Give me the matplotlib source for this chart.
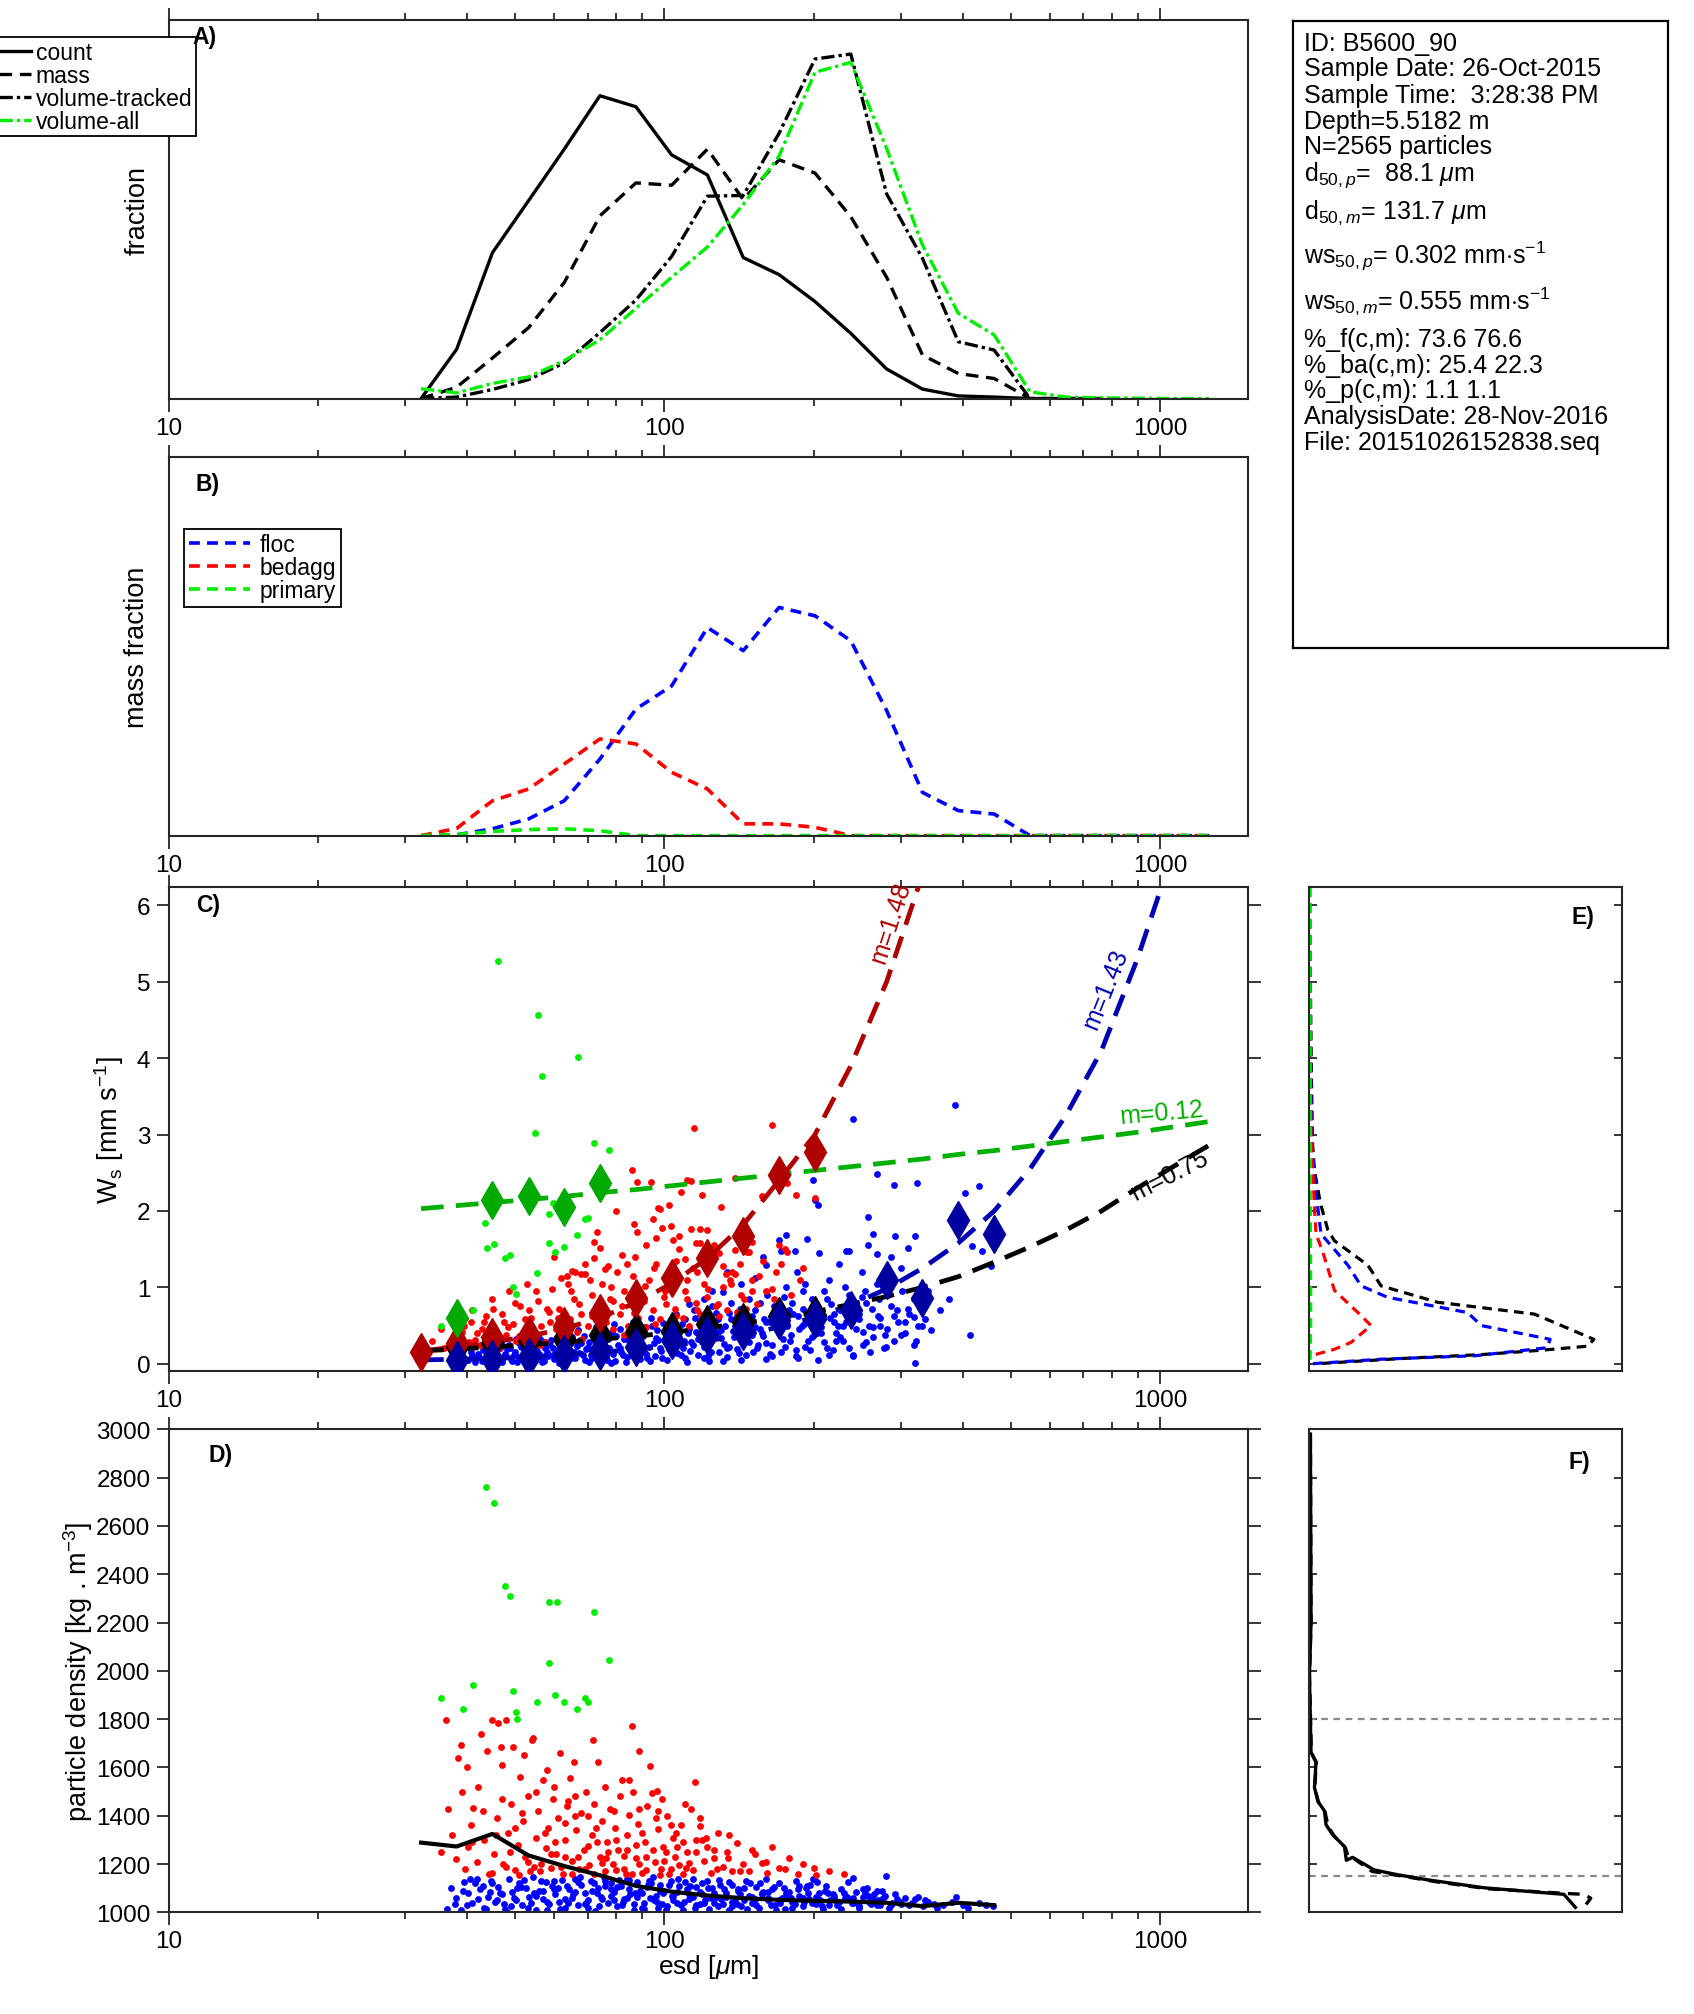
import matplotlib
matplotlib.use('Agg')
import matplotlib.pyplot as plt
from matplotlib.ticker import LogLocator, NullFormatter, FixedLocator

plt.rcParams['font.family'] = ['Liberation Sans', 'DejaVu Sans']
plt.rcParams['mathtext.fontset'] = 'custom'
plt.rcParams['mathtext.rm'] = 'Liberation Sans'
plt.rcParams['mathtext.it'] = 'Liberation Sans:italic'
plt.rcParams['mathtext.bf'] = 'Liberation Sans:bold'

# ---- size bins (esd, um) ----
bins = [32.3, 38.1, 45.0, 53.2, 62.8, 74.1, 87.6, 103.4, 122.1, 144.2, 170.3, 201.2,
        237.6, 280.6, 331.4, 391.4, 462.3, 546.0, 645.0, 761.0, 899.0, 1062.0, 1254.0]
xtick_vals = [10, 100, 1000]
xtick_labels = ['10', '100', '1000']

# ---- A) size distributions ----
frac_count = [0, .130, .385, .522, .658, .799, .770, .643, .590, .372, .327, .256, .172,
              .078, .025, .007, .004, 0, 0, 0]
frac_mass = [0, .030, .107, .187, .306, .482, .569, .563, .658, .525, .630, .595, .480,
             .320, .115, .066, .053, 0, 0, 0]
frac_vol_tracked = [0, .004, .024, .050, .094, .174, .260, .375, .534, .536, .700, .896,
                    .909, .540, .370, .150, .128, 0, 0, 0]
frac_vol_all = [.026, .015, .040, .057, .100, .155, .238, .320, .400, .512, .640, .861,
                .887, .660, .405, .225, .168, .018, .004, .002, .001, 0, 0]

# ---- B) mass fraction by class ----
mf_floc = [0, .002, .018, .044, .092, .202, .334, .395, .549, .488, .602, .580, .514,
           .330, .114, .066, .057, 0, 0, 0, 0, 0, 0]
mf_bedagg = [0, .019, .092, .123, .189, .255, .242, .167, .123, .031, .031, .022, 0,
             0, 0, 0, 0, 0, 0, 0, 0, 0, 0]
mf_primary = [0, .003, .011, .016, .018, .013, 0, 0, 0, 0, 0, 0, 0,
              0, 0, 0, 0, 0, 0, 0, 0, 0, 0]

# ---- C) settling velocity (mm/s) ----
ws_floc_pts = [
    (37.5, .03), (38.4, .08), (39.0, .12), (40.1, .05), (40.8, .15), (41.5, .02), (42.3, .09),
    (43.0, .18), (43.6, .06), (44.2, .11), (45.1, .03), (45.8, .14), (46.5, .20), (47.2, .07),
    (47.9, .10), (48.6, .25), (49.3, .04), (50.0, .16), (50.7, .09), (51.4, .22), (52.1, .12),
    (52.9, .05), (53.6, .18), (54.4, .28), (55.1, .08), (55.9, .13), (56.7, .02), (57.5, .21),
    (58.3, .10), (59.1, .31), (59.9, .06), (60.8, .17), (61.6, .24), (62.5, .11), (63.4, .03),
    (64.3, .19), (65.2, .35), (66.1, .08), (67.1, .14), (68.0, .27), (69.0, .05), (70.0, .22),
    (71.0, .12), (72.0, .38), (73.0, .17), (74.1, .07), (75.1, .30), (76.2, .10), (77.3, .20),
    (78.4, .42), (79.5, .04), (80.7, .25), (81.8, .15), (83.0, .33), (84.2, .09), (85.4, .46),
    (86.6, .18), (87.8, .28), (89.1, .06), (90.4, .37), (91.7, .13), (93.0, .22), (94.3, .50),
    (95.7, .10), (97.0, .31), (98.4, .17), (99.8, .42), (101, .05), (103, .26), (104, .55),
    (106, .14), (107, .35), (109, .20), (110, .08), (112, .46), (113, .29), (115, .60),
    (117, .12), (118, .38), (120, .22), (122, .52), (123, .03), (125, .31), (127, .66),
    (129, .16), (130, .44), (132, .26), (134, .09), (136, .58), (138, .35), (140, .19),
    (142, .72), (144, .42), (146, .11), (148, .28), (150, .62), (152, .48), (154, .20),
    (156, .80), (158, .36), (160, .06), (163, .55), (165, .25), (167, .70), (170, .40),
    (172, .15), (174, .88), (177, .50), (179, .30), (182, .65), (184, .10), (187, .45),
    (190, .95), (192, .22), (195, .58), (198, .35), (201, .75), (204, .05), (207, .48),
    (210, .28), (213, .85), (216, .60), (219, .18), (222, .40), (226, .70), (229, .30),
    (232, .55), (236, .90), (240, .12), (243, .45), (247, .65), (251, .25), (255, .80),
    (259, .50), (264, .35), (268, 1.05), (272, .60), (277, .20), (281, .45), (286, .75),
    (291, .30), (296, .55), (301, .95), (306, .40), (312, .65), (318, .25), (324, .50), (330, .80),
    (38, .01), (39.5, .06), (41, .10), (42.8, .04), (44.6, .08), (46, .01), (47.6, .13),
    (49, .06), (50.4, .02), (51.8, .10), (53.2, .15), (54.8, .03), (56.3, .09), (57.9, .16),
    (59.5, .12), (61.2, .01), (62.9, .14), (64.7, .07), (66.5, .23), (68.4, .11), (70.3, .02),
    (72.4, .15), (74.5, .26), (76.7, .05), (78.9, .13), (81.2, .21), (83.6, .02), (86.0, .11),
    (88.5, .24), (91.0, .16), (93.6, .03), (96.3, .34), (99.1, .08), (102, .19), (105, .40),
    (108, .11), (111, .02), (114, .25), (117, .33), (120, .07), (124, .16), (128, .41),
    (131, .04), (135, .22), (139, .50), (143, .05), (147, .33), (151, .15), (156, .45),
    (160, .27), (165, .10), (170, .60), (175, .22), (180, .38), (186, .08), (191, .52),
    (197, .18), (203, .40), (209, .62), (215, .12), (222, .30), (229, .50), (236, .20),
    (244, .70), (252, .42), (260, .15), (269, .62), (278, .38),
    (45.5, .17), (47.0, .02), (48.2, .19), (49.8, .11), (51.0, .27), (52.5, .01), (53.9, .23),
    (55.4, .17), (56.0, .33), (57.1, .04), (58.8, .25), (60.3, .13), (61.9, .29), (63.7, .09),
    (65.6, .16), (67.5, .31), (69.4, .19), (71.5, .08), (73.6, .34), (75.8, .21), (78.0, .01),
    (80.0, .36), (82.4, .12), (84.8, .30), (87.3, .19), (89.8, .40), (92.4, .07), (95.1, .27),
    (97.9, .20), (100.5, .36), (103.5, .13), (106.5, .46), (109.5, .30), (112.5, .17),
    (116, .42), (119, .28), (122.5, .10), (126, .48), (130, .34), (133.5, .21), (137.5, .43),
    (141.5, .14), (145.5, .52), (150, .38), (154.5, .24), (159, .58), (163.5, .13),
    (168.5, .46), (173.5, .33), (178.5, .70), (184, .18), (189.5, .50), (195, .30), (201, .62),
    (207, .40), (213, .20), (219.5, .55), (226, .35), (233, .72), (240, .10), (247, .58),
    (255, .28), (263, .48), (271, .85), (280, .22), (290, .62), (300, .38), (310, .72),
    (322, .30), (335, .58),
    (40.5, .20), (42, .13), (43.4, .24), (44.9, .16), (46.8, .28), (48.9, .21), (50.2, .33),
    (52.2, .26), (54.1, .10), (55.7, .38), (57.3, .29), (59.7, .20), (61.4, .40), (63.0, .33),
    (64.9, .27), (66.8, .44), (68.7, .36), (70.6, .28), (72.7, .48), (74.8, .40), (77.0, .32),
    (79.2, .52), (81.5, .45), (83.9, .37), (86.3, .55), (88.8, .33), (91.4, .48), (94.0, .60),
    (96.7, .44), (99.5, .53), (102.4, .30), (105.3, .65), (108.4, .52), (111.5, .40),
    (114.7, .70), (118, .55), (121.4, .45), (124.9, .75), (128.5, .58), (132.2, .50),
    (136, .80), (140, .62), (144, .33), (148, .85), (152, .70), (157, .40), (161, .90),
    (166, .75), (171, .52), (176, 1.0), (181, .80), (186, .62), (192, 1.05), (198, .85),
    (204, .68), (210, .95), (217, .78), (224, .50), (231, 1.0), (238, .82), (246, .62),
    (254, .95), (262, .72), (272, .50), (283, .90), (294, .70), (306, .55), (318, .85),
    (60.6, .35), (85, .42), (110, .58), (135, .66), (160, .55), (190, .72), (220, .65),
    (250, .88),
    (386, 3.39), (240, 3.21), (199, 2.41), (201, 2.15), (204, 2.08), (268, 2.48), (291, 2.34),
    (323, 2.37), (404, 2.24), (430, 2.33), (257, 1.92), (264, 1.70), (176, 1.69), (170, 1.62),
    (194, 1.63), (292, 1.67), (320, 1.67), (172, 1.47), (183, 1.47), (205, 1.45), (232, 1.48),
    (236, 1.48), (257, 1.55), (268, 1.44), (287, 1.40), (310, 1.51), (417, 1.54), (437, 1.48),
    (456, 1.28), (413, 0.38), (320, 0.01), (345, 0.44), (330, 0.49), (318, 0.61), (158, 1.40),
    (160, 1.29), (152, 1.12), (134, 1.20), (131, 0.94), (143, 1.05), (120, 0.85), (112, 0.78),
    (125, 0.95), (185, 1.20), (215, 1.10), (225, 1.30), (250, 1.20), (275, 1.10), (300, 1.25),
    (340, 0.95), (360, 0.70), (375, 0.85),
]
ws_bedagg_pts = [
    (34, .30), (35.5, .45), (36.5, .22), (37.2, .60), (38, .35), (38.8, .18), (39.5, .50),
    (40.3, .28), (41, .70), (41.8, .40), (42.5, .25), (43.3, .55), (44, .33), (44.8, .85),
    (45.6, .45), (46.3, .20), (47.1, .65), (47.9, .38), (48.7, .95), (49.5, .52), (50.3, .30),
    (51.2, .75), (52, .42), (52.9, 1.05), (53.8, .60), (54.7, .35), (55.6, .82), (56.5, .50),
    (57.5, .28), (58.4, .68), (59.4, .98), (60.4, .45), (61.4, .72), (62.4, .38), (63.5, 1.15),
    (64.5, .58), (65.6, .85), (66.7, .42), (67.8, .65), (69, 1.30), (70.1, .50), (71.3, .90),
    (72.5, .35), (73.7, .75), (75, 1.05), (76.2, .55), (77.5, .85), (78.8, .45), (80.1, 1.20),
    (81.5, .65), (82.9, .95), (84.3, .50), (85.7, .78), (87.1, 1.40), (88.6, .60), (90.1, .90),
    (91.6, .48), (93.2, 1.10), (94.7, .70), (96.3, 1.30), (98, .58), (99.6, .88), (101, .45),
    (103, 1.15), (105, .72), (107, 1.50), (109, .60), (110, .95), (112, .50), (114, 1.25),
    (116, .80), (118, .65), (120, 1.05), (122, .55), (124, 1.35), (127, .75), (129, .62),
    (131, 1.00), (134, .70), (137, 1.20), (140, .68), (143, .90), (146, .72), (150, 1.10),
    (154, .78), (160, .95), (166, .85), (172, 1.30), (180, .90), (188, 1.10),
    (36, .20), (39, .42), (41.5, .31), (43.7, .62), (46, .27), (48.3, .48), (50.8, .36),
    (53.4, .70), (56, .25), (58.8, .55), (61.8, .40), (64.9, .95), (68.1, .32), (71.5, .62),
    (75.1, .45), (78.9, .82), (82.8, .38), (86.9, .66), (91.2, 1.02), (95.8, .52), (100.6, .78),
    (105.6, .62), (110.9, 1.10), (116.4, .70), (122, .88), (128, .78), (136, 1.05), (145, .85),
    (155, 1.15), (165, .98), (175, 1.50), (190, 1.25),
    (37.8, .40), (40.8, .55), (42.9, .46), (45.1, .72), (47.5, .55), (49.9, .80), (52.4, .58),
    (55.1, .95), (57.9, .72), (60.9, .60), (64.0, 1.05), (67.3, .78), (70.7, 1.10), (74.3, .68),
    (78.2, 1.00), (82.2, .75), (86.4, 1.15), (90.8, .82), (95.4, 1.25), (100.3, .95),
    (105.4, 1.35), (110.8, .85), (116.5, 1.20), (122.5, .98), (128.7, 1.45), (135.3, 1.10),
    (142, 1.30), (150, .95), (158, 1.35), (168, 1.20), (60, 1.40), (72, 1.60), (84, 1.30),
    (92, 1.55), (104, 1.62), (126, 1.55), (95, 1.90), (80, 2.00), (130, 2.05), (108, 2.25),
    (114.6, 3.09), (165, 3.13), (86, 2.54), (88, 2.38), (94, 2.38), (97, 2.04), (102, 2.08),
    (111, 2.40), (113, 2.39), (119, 2.21), (118, 1.77), (122, 1.75), (118, 1.58), (107, 1.67),
    (99, 1.78), (96, 1.65), (87, 1.83), (88, 1.73), (82, 1.42), (73, 1.72), (74, 1.52),
    (72, 1.39), (77, 1.28), (65, 1.21), (68, 1.18), (62, 1.12), (131, 1.28), (139, 1.18),
    (139, 1.49), (147, 1.46), (157, 2.20), (139, 2.43), (184, 2.21), (177, 2.36), (201, 2.17),
    (170, 1.55), (177, 1.46), (116, 1.58), (110, 1.37), (124, 1.37), (133, 1.18), (148, 1.46),
    (150, 1.60), (98, 2.03), (103, 1.80), (113, 1.76), (76, 1.24), (69, 1.17), (66, 1.20),
]
ws_primary_pts = [
    (46.1, 5.27), (55.6, 4.57), (56.7, 3.76), (66.8, 4.02), (54.8, 3.02), (72.0, 2.89),
    (77.4, 2.80), (43.5, 1.84), (45.4, 1.57), (43.8, 1.51), (47.7, 1.39), (48.9, 1.42),
    (58.5, 1.58), (62.7, 1.53), (60.1, 1.46), (58.5, 1.96), (59.5, 2.10), (69.3, 1.89),
    (70.0, 1.91), (66.5, 1.69), (55.4, 1.19), (49.5, 1.00), (50.3, 0.91), (41.1, 0.70),
    (35.5, 0.50),
]
# binned medians (diamonds)
ws_med_bedagg = [0.15, 0.27, 0.35, 0.38, 0.49, 0.66, 0.86, 1.12, 1.39, 1.67, 2.47, 2.77]
ws_med_floc = [0.05, 0.06, 0.09, 0.13, 0.17, 0.22, 0.31, 0.38, 0.43, 0.57, 0.59, 0.71,
               1.09, 0.86, 1.88, 1.70]
ws_med_all = [0.22, 0.27, 0.30, 0.33, 0.38, 0.42, 0.43, 0.52, 0.55, 0.63, 0.64]
ws_med_primary = [0.60, 2.15, 2.20, 2.05, 2.37]
# fitted curves read at the bin centres
ws_fit_bedagg = [0.17, 0.22, 0.28, 0.36, 0.46, 0.60, 0.80, 1.05, 1.38, 1.82, 2.40, 3.00,
                 3.90, 5.00, 6.40]
ws_fit_floc = [0.05, 0.06, 0.07, 0.09, 0.12, 0.15, 0.19, 0.24, 0.30, 0.38, 0.48, 0.61,
               0.77, 0.98, 1.25, 1.58, 2.00, 2.55, 3.25, 4.10, 5.30, 6.70]
ws_fit_all = [0.17, 0.19, 0.22, 0.25, 0.28, 0.32, 0.36, 0.41, 0.47, 0.53, 0.60, 0.68,
              0.78, 0.88, 1.00, 1.14, 1.33, 1.53, 1.75, 2.00, 2.30, 2.58, 2.86]
ws_fit_primary = [2.03, 2.07, 2.11, 2.15, 2.19, 2.24, 2.28, 2.33, 2.38, 2.43, 2.48, 2.53,
                  2.58, 2.63, 2.68, 2.74, 2.79, 2.85, 2.91, 2.97, 3.03, 3.10, 3.17]

# ---- D) particle density (kg/m3) ----
rho_floc_pts = [
    (36.4, 1013), (37.2, 1100), (38.0, 1060), (38.8, 1010), (39.5, 1125), (40.2, 1080),
    (41.0, 1040), (41.8, 1140), (42.5, 1095), (43.2, 1020), (44.0, 1065), (44.7, 1130),
    (45.5, 1045), (46.2, 1105), (47.0, 1075), (47.8, 1015), (48.5, 1140), (49.3, 1085),
    (50.1, 1050), (50.9, 1120), (51.7, 1030), (52.5, 1100), (53.3, 1065), (54.2, 1145),
    (55.0, 1010), (55.9, 1090), (56.8, 1055), (57.6, 1125), (58.5, 1035), (59.4, 1110),
    (60.3, 1075), (61.2, 1045), (62.2, 1135), (63.1, 1020), (64.1, 1095), (65.0, 1060),
    (66.0, 1140), (67.0, 1030), (68.0, 1115), (69.1, 1080), (70.1, 1050), (71.2, 1130),
    (72.3, 1005), (73.4, 1100), (74.5, 1065), (75.6, 1145), (76.8, 1040), (78.0, 1120),
    (79.2, 1085), (80.4, 1025), (81.6, 1110), (82.9, 1055), (84.1, 1140), (85.4, 1075),
    (86.7, 1035), (88.1, 1125), (89.4, 1090), (90.8, 1015), (92.2, 1105), (93.6, 1060),
    (95.0, 1145), (96.5, 1045), (98.0, 1115), (99.5, 1080), (101, 1025), (103, 1130),
    (104, 1070), (106, 1040), (107, 1110), (109, 1010), (111, 1095), (112, 1055), (114, 1140),
    (116, 1030), (118, 1085), (119, 1120), (121, 1050), (123, 1015), (125, 1100), (127, 1065),
    (129, 1135), (131, 1035), (133, 1080), (135, 1010), (137, 1115), (139, 1055), (141, 1090),
    (143, 1025), (146, 1130), (148, 1070), (150, 1040), (153, 1105), (155, 1020), (157, 1075),
    (160, 1140), (162, 1050), (165, 1095), (167, 1030), (170, 1120), (173, 1060), (175, 1015),
    (178, 1085), (181, 1045), (184, 1130), (187, 1070), (190, 1025), (193, 1100), (196, 1055),
    (199, 1140), (202, 1035), (205, 1080), (209, 1015), (212, 1110), (216, 1050), (219, 1075),
    (223, 1030), (227, 1095), (231, 1060), (235, 1125), (239, 1040), (243, 1085), (247, 1020),
    (252, 1065), (256, 1100), (261, 1035), (265, 1075), (270, 1050), (275, 1090), (280, 1149),
    (286, 1030), (292, 1076), (298, 1045), (305, 1060), (312, 1030), (320, 1055), (324, 1063),
    (332, 1025), (340, 1045), (350, 1035), (365, 1030), (387, 1063), (410, 1017), (431, 1038),
    (459, 1026), (240, 1142), (200, 1140), (203, 1125), (194, 1109), (268, 1088), (257, 1068),
    (40, 1030), (43, 1110), (46, 1050), (49, 1025), (52, 1135), (55, 1070), (58, 1010),
    (61, 1100), (64, 1040), (67, 1125), (70, 1020), (73, 1080), (76, 1110), (79, 1050),
    (82, 1030), (85, 1095), (88, 1065), (91, 1040), (94, 1120), (97, 1020), (100, 1090),
    (104, 1050), (108, 1030), (112, 1075), (116, 1105), (120, 1040), (124, 1060), (128, 1025),
    (132, 1095), (137, 1045), (142, 1075), (147, 1015), (152, 1055), (158, 1085), (164, 1030),
    (170, 1050), (176, 1070), (183, 1035), (190, 1060), (198, 1040), (206, 1050), (215, 1030),
    (225, 1045), (235, 1055), (246, 1035), (258, 1045), (272, 1030), (288, 1040),
    (41.5, 1120), (44.5, 1085), (47.5, 1035), (50.5, 1100), (53.8, 1040), (57, 1090),
    (60, 1130), (63, 1055), (66, 1085), (69, 1035), (72, 1120), (75, 1055), (78, 1095),
    (81, 1135), (84, 1060), (87, 1010), (90, 1080), (93, 1130), (96, 1070), (99, 1035),
    (102, 1115), (106, 1085), (110, 1125), (114, 1065), (118, 1035), (122, 1130), (126, 1080),
    (130, 1055), (135, 1125), (140, 1035), (145, 1100), (150, 1065), (156, 1120), (162, 1085),
    (168, 1010), (174, 1100), (180, 1060), (187, 1110), (195, 1080), (203, 1060), (211, 1090),
    (220, 1070), (230, 1080), (240, 1060), (251, 1095), (263, 1055), (278, 1070), (295, 1055),
    (37.8, 1035), (39.2, 1090), (40.6, 1140), (42.1, 1055), (43.6, 1015), (45.0, 1120),
    (46.6, 1080), (48.1, 1000), (49.7, 1060), (51.3, 1105), (53.0, 1020), (54.6, 1080),
    (56.4, 1130), (58.1, 1045), (59.9, 1095), (61.7, 1015), (63.6, 1110), (65.5, 1075),
    (67.5, 1145), (69.5, 1040), (71.6, 1090), (73.7, 1025), (75.9, 1130), (78.1, 1070),
    (80.3, 1105), (82.6, 1045), (85.0, 1135), (87.4, 1080), (89.9, 1020), (92.5, 1115),
    (95.1, 1050), (97.8, 1090), (100.5, 1010), (103.4, 1070), (106.3, 1140), (109.3, 1045),
    (112.4, 1110), (115.5, 1020), (118.8, 1075), (122.2, 1100), (125.6, 1040), (129.2, 1115),
    (132.8, 1065), (136.6, 1025), (140.5, 1095), (144.5, 1050), (148.6, 1120), (152.8, 1030),
    (157.2, 1080), (161.6, 1060), (166.2, 1105), (171, 1040), (175.8, 1080), (180.9, 1020),
    (186, 1095), (191.3, 1045), (196.8, 1115), (202.4, 1065), (208.2, 1025), (214.2, 1080),
    (220.3, 1050), (226.7, 1015), (233.2, 1065), (239.8, 1040), (246.7, 1025), (253.7, 1080),
    (261, 1050), (268.5, 1030), (276, 1060), (284, 1020), (300, 1035), (316, 1040),
    (335, 1050), (355, 1020), (380, 1045), (400, 1030), (445, 1030),
]
rho_bedagg_pts = [
    (35.5, 1250), (36.2, 1798), (36.6, 1429), (37.3, 1320), (38.4, 1641), (38.9, 1691),
    (39.0, 1498), (39.6, 1180), (40.2, 1270), (40.8, 1360), (41.2, 1433), (41.9, 1210),
    (42.7, 1737), (43.2, 1300), (43.9, 1667), (44.3, 1160), (44.8, 1797), (45.3, 1240),
    (45.9, 1390), (46.2, 1785), (46.8, 1683), (47.3, 1200), (47.9, 1797), (48.4, 1330),
    (49.0, 1450), (49.4, 1683), (50.0, 1175), (50.6, 1280), (51.2, 1560), (51.8, 1380),
    (52.4, 1230), (53.0, 1480), (53.6, 1170), (54.0, 1712), (54.4, 1720), (55.0, 1310),
    (55.7, 1420), (56.3, 1200), (57.0, 1550), (57.6, 1265), (58.3, 1350), (59.0, 1185),
    (59.7, 1470), (60.4, 1240), (61.1, 1390), (61.6, 1660), (62.3, 1160), (63.0, 1300),
    (63.7, 1440), (64.4, 1558), (65.2, 1215), (65.6, 1624), (66.4, 1340), (67.2, 1180),
    (68.0, 1410), (68.8, 1260), (69.6, 1500), (70.4, 1195), (71.3, 1320), (71.7, 1715),
    (72.2, 1450), (73.3, 1623), (74.0, 1230), (74.9, 1380), (75.8, 1170), (76.7, 1290),
    (77.6, 1430), (78.6, 1200), (79.5, 1350), (80.5, 1260), (81.5, 1480), (82.0, 1550),
    (83.0, 1180), (84.0, 1320), (85.0, 1405), (86.0, 1772), (86.5, 1500), (87.5, 1225),
    (88.6, 1365), (89.0, 1667), (90.0, 1165), (91.2, 1290), (92.3, 1440), (93.5, 1606),
    (94.6, 1496), (95.8, 1210), (96.4, 1504), (97.0, 1345), (98.3, 1180), (99.5, 1270),
    (101, 1400), (102, 1160), (104, 1310), (105, 1230), (107, 1195), (108, 1360), (110, 1449),
    (111, 1250), (113, 1428), (114, 1175), (115, 1540), (116, 1300), (118, 1359), (120, 1215),
    (122, 1270), (124, 1165), (126, 1224), (128, 1330), (131, 1190), (134, 1250), (137, 1170),
    (140, 1286), (144, 1200), (148, 1172), (152, 1240), (157, 1205), (161, 1165), (165, 1270),
    (170, 1185), (178, 1224), (186, 1160), (200, 1183), (202, 1157), (215, 1170), (230, 1160),
    (45, 1165), (48, 1190), (51, 1155), (53, 1210), (56, 1170), (59, 1240), (62, 1190),
    (65, 1160), (67, 1230), (70, 1275), (72, 1160), (75, 1205), (77, 1250), (80, 1175),
    (83, 1235), (86, 1160), (89, 1200), (92, 1175), (95, 1260), (98, 1155), (100, 1215),
    (103, 1180), (106, 1270), (109, 1160), (112, 1205),
    (40, 1600), (42, 1520), (47, 1610), (50, 1350), (52, 1650), (58, 1590), (60, 1520),
    (63, 1370), (66, 1480), (70, 1400), (76, 1520), (79, 1420), (84, 1260), (90, 1330),
    (97, 1420), (103, 1360), (109, 1290), (119, 1300), (126, 1260),
    (38, 1220), (41, 1290), (43, 1420), (45.8, 1320), (48.8, 1250), (51.5, 1410), (54.6, 1190),
    (57.3, 1330), (60.2, 1290), (62.9, 1230), (66, 1400), (69.2, 1180), (72.8, 1350),
    (76.2, 1225), (79.8, 1300), (83.6, 1160), (87.7, 1280), (91.7, 1230), (96, 1390),
    (100.6, 1250), (105.4, 1330), (110.5, 1185), (116, 1250), (121.5, 1310), (127.5, 1180),
    (134.5, 1225), (142, 1170), (150, 1260), (160, 1210), (175, 1180), (190, 1200),
    (47, 1470), (55, 1500), (64, 1460), (73, 1290), (85, 1550), (99, 1470), (135, 1320),
    (118, 1390), (89, 1430),
]
rho_primary_pts = [
    (43.7, 2761), (45.3, 2694), (47.7, 2350), (48.9, 2309), (58.5, 2285), (60.6, 2285),
    (72.1, 2242), (58.5, 2031), (77.4, 2044), (41.1, 1940), (35.5, 1886), (39.3, 1841),
    (49.5, 1915), (50.1, 1831), (50.4, 1802), (55.3, 1870), (60.1, 1899), (62.7, 1870),
    (66.5, 1844), (69.3, 1886), (70.0, 1873),
]
rho_median = [1289, 1273, 1325, 1236, 1192, 1154, 1110, 1086, 1070, 1059, 1052, 1048,
              1045, 1040, 1026, 1040, 1030]

# ---- E) settling velocity distributions (fraction, ws) ----
e_all_frac = [0, .003, .006, .010, .016, .035, .059, .080, .187, .229, .41, .72, .91, .89,
              .75, .55, .30, .02]
e_all_ws = [6.24, 5.0, 3.8, 2.86, 2.53, 2.1, 1.75, 1.61, 1.29, 1.02, .805, .65, .32, .23,
            .18, .12, .07, 0]
e_floc_frac = [0, .003, .006, .011, .027, .037, .123, .165, .25, .506, .55, .77, .76, .53,
               .23, .005]
e_floc_ws = [6.24, 4.0, 3.2, 2.69, 2.03, 1.70, 1.29, 1.02, .87, .67, .50, .32, .21, .105,
             .06, 0]
e_bedagg_frac = [0, .002, .005, .011, .016, .021, .043, .08, .155, .197, .133, .08, .005]
e_bedagg_ws = [6.24, 4.0, 3.0, 2.51, 2.03, 1.70, 1.46, .96, .67, .50, .28, .19, .105]
e_primary_frac = [.002, .002, .003, .004, .004, .002]
e_primary_ws = [6.24, 4.0, 2.0, 1.0, .5, 0]

# ---- F) density distributions (fraction, rho) ----
f_count_frac = [.003, .004, .005, 0, .005, .021, .016, .027, .048, .053, .074, .112, .118,
                .138, .207, .282, .378, .559, .814, .851]
f_count_rho = [2980, 2600, 2200, 1980, 1663, 1623, 1517, 1460, 1420, 1363, 1322, 1273,
               1216, 1228, 1176, 1156, 1135, 1102, 1075, 1021]
f_mass_frac = [.003, .004, .005, 0, .006, .022, .017, .029, .05, .06, .08, .115, .125, .14,
               .2, .3, .4, .57, .83, .878, .90, .875]
f_mass_rho = [2980, 2600, 2200, 1980, 1660, 1620, 1515, 1455, 1415, 1355, 1315, 1268, 1225,
              1225, 1170, 1150, 1128, 1098, 1078, 1075, 1059, 1016]
rho_limits = [1800, 1150]

info_lines = [
    'ID: B5600_90',
    'Sample Date: 26-Oct-2015',
    'Sample Time:  3:28:38 PM',
    'Depth=5.5182 m',
    'N=2565 particles',
    r'd$_{50,p}$=  88.1 $\mu$m',
    r'd$_{50,m}$= 131.7 $\mu$m',
    r'ws$_{50,p}$= 0.302 mm$\cdot$s$^{-1}$',
    r'ws$_{50,m}$= 0.555 mm$\cdot$s$^{-1}$',
    '%_f(c,m): 73.6 76.6',
    '%_ba(c,m): 25.4 22.3',
    '%_p(c,m): 1.1 1.1',
    'AnalysisDate: 28-Nov-2016',
    'File: 20151026152838.seq',
]
info_baselines = [39.3, 58.9, 79.8, 100, 120, 141, 170, 205, 240, 270, 290, 310, 330, 350]

# ---------------------------------------------------------------------------
SPINE = '#262626'
TICK_FS = 17.5
LABEL_FS = 19.5
DOT_MS = 4.9
fig = plt.figure(figsize=(16.94, 20.15), dpi=100)

X0, W0 = 0.0995, 0.637          # left column
X1, W1 = 0.773, 0.1845          # right column (E, F)


def style_log_axis(ax, ytick=False):
    ax.set_xscale('log')
    ax.set_xlim(10, 1500)
    ax.xaxis.set_major_locator(FixedLocator(xtick_vals))
    ax.set_xticklabels(xtick_labels)
    ax.xaxis.set_minor_locator(LogLocator(base=10, subs=range(2, 10)))
    ax.xaxis.set_minor_formatter(NullFormatter())
    ax.tick_params(axis='x', which='both', direction='out', top=True, bottom=True,
                   color=SPINE, width=1.3, labelsize=TICK_FS, pad=4)
    ax.tick_params(axis='x', which='major', length=9)
    ax.tick_params(axis='x', which='minor', length=5)
    if ytick:
        ax.tick_params(axis='y', direction='out', left=True, right=True, length=9,
                       color=SPINE, width=1.3, labelsize=TICK_FS, pad=4)
    else:
        ax.set_yticks([])
    for s in ax.spines.values():
        s.set_color(SPINE)
        s.set_linewidth(1.5)


def panel_label(ax, x, y, s):
    ax.text(x, y, s, transform=ax.transAxes, fontsize=16.5, fontweight='bold',
            ha='left', va='center', zorder=10)


# A) distributions
axA = fig.add_axes([X0, 0.8017, W0, 0.1881])
style_log_axis(axA)
axA.plot(bins[:20], frac_count, color='black', lw=2.4, label='count')
axA.plot(bins[:20], frac_mass, color='black', lw=2.4, dashes=(3.8, 2.3), label='mass')
axA.plot(bins[:20], frac_vol_tracked, color='black', lw=2.4, dashes=(4, 1.2, 1, 1.2),
         label='volume-tracked')
axA.plot(bins, frac_vol_all, color='#00ee00', lw=2.4, dashes=(4, 1.2, 1, 1.2),
         label='volume-all')
axA.set_ylim(0, 1)
axA.set_ylabel('fraction', fontsize=LABEL_FS)
axA.yaxis.set_label_coords(-0.017, 0.5)
panel_label(axA, 0.022, 0.955, 'A)')
legA = axA.legend(loc='upper right', bbox_to_anchor=(0.1155, 0.981),
                  bbox_transform=fig.transFigure, fontsize=16.5, frameon=True,
                  fancybox=False, edgecolor='black', framealpha=1, borderpad=0.15,
                  labelspacing=0.0, handlelength=2.4, handletextpad=0.2,
                  borderaxespad=0)
legA.get_frame().set_linewidth(1.3)

# B) mass fraction by class
axB = fig.add_axes([X0, 0.5848, W0, 0.1881])
style_log_axis(axB)
axB.plot(bins, mf_floc, color='#0000ff', lw=2.6, dashes=(3, 2), label='floc')
axB.plot(bins, mf_bedagg, color='#ff0000', lw=2.6, dashes=(3, 2), label='bedagg')
axB.plot(bins, mf_primary, color='#00ee00', lw=2.6, dashes=(3, 2), label='primary')
axB.set_ylim(0, 1)
axB.set_ylabel('mass fraction', fontsize=LABEL_FS)
axB.yaxis.set_label_coords(-0.017, 0.5)
panel_label(axB, 0.025, 0.93, 'B)')
legB = axB.legend(loc='upper left', bbox_to_anchor=(0.0143, 0.81), fontsize=16.5,
                  frameon=True, fancybox=False, edgecolor='black', framealpha=1,
                  borderpad=0.2, labelspacing=0.0, handlelength=2.7,
                  handletextpad=0.4, borderaxespad=0)
legB.get_frame().set_linewidth(1.3)

# C) settling velocity
axC = fig.add_axes([X0, 0.3189, W0, 0.2404])
style_log_axis(axC, ytick=True)
for pts, col in [(ws_floc_pts, '#0000ff'), (ws_bedagg_pts, '#ff0000'),
                 (ws_primary_pts, '#00ee00')]:
    xs, ys = zip(*pts)
    axC.plot(xs, ys, 'o', color=col, ms=DOT_MS, mew=0, zorder=2)
axC.plot(bins[:len(ws_fit_bedagg)], ws_fit_bedagg, color='#b00000', lw=3.4,
         dashes=(4.8, 2.6), zorder=3)
axC.plot(bins[:len(ws_fit_floc)], ws_fit_floc, color='#0000b4', lw=3.4,
         dashes=(4.8, 2.6), zorder=3)
axC.plot(bins, ws_fit_all, color='black', lw=3.4, dashes=(4.8, 2.6), zorder=3)
axC.plot(bins, ws_fit_primary, color='#00b000', lw=3.4, dashes=(4.8, 2.6), zorder=3)
axC.plot(bins[:len(ws_med_bedagg)], ws_med_bedagg, 'd', color='#b00000', ms=19, zorder=4)
axC.plot(bins[1:1 + len(ws_med_floc)], ws_med_floc, 'd', color='#0000a0', ms=19, zorder=4)
axC.plot(bins[1:1 + len(ws_med_all)], ws_med_all, 'd', color='black', ms=19, zorder=3.5)
axC.plot(bins[1:1 + len(ws_med_primary)], ws_med_primary, 'd', color='#00aa00', ms=19,
         zorder=4)
axC.text(286, 5.78, 'm=1.48', color='#b00000', fontsize=18, rotation=72,
         ha='center', va='center')
axC.text(774, 4.91, 'm=1.43', color='#0000b4', fontsize=18, rotation=68,
         ha='center', va='center')
axC.text(1007, 3.29, 'm=0.12', color='#00b000', fontsize=18, rotation=5,
         ha='center', va='center')
axC.text(1042, 2.47, 'm=0.75', color='black', fontsize=18, rotation=27,
         ha='center', va='center')
axC.set_ylim(-0.1, 6.24)
axC.set_yticks([0, 1, 2, 3, 4, 5, 6])
axC.set_ylabel(r'W$_{\mathrm{s}}$ [mm s$^{-1}$]', fontsize=LABEL_FS)
axC.yaxis.set_label_coords(-0.039, 0.5)
panel_label(axC, 0.026, 0.963, 'C)')

# D) particle density
axD = fig.add_axes([X0, 0.0504, W0, 0.2398])
style_log_axis(axD, ytick=True)
for pts, col in [(rho_floc_pts, '#0000ff'), (rho_bedagg_pts, '#ff0000'),
                 (rho_primary_pts, '#00ee00')]:
    xs, ys = zip(*pts)
    axD.plot(xs, ys, 'o', color=col, ms=DOT_MS, mew=0, zorder=2)
axD.plot(bins[:len(rho_median)], rho_median, color='black', lw=3.0, zorder=3)
axD.set_ylim(1000, 3000)
axD.set_yticks(range(1000, 3001, 200))
axD.set_ylabel(r'particle density [kg . m$^{-3}$]', fontsize=LABEL_FS)
axD.yaxis.set_label_coords(-0.068, 0.5)
axD.set_xlabel(r'esd [$\mu$m]', fontsize=19, labelpad=0)
panel_label(axD, 0.037, 0.947, 'D)')

# info box
axI = fig.add_axes([0.763, 0.6779, 0.2217, 0.3112])
axI.set_xticks([])
axI.set_yticks([])
for s in axI.spines.values():
    s.set_color('black')
    s.set_linewidth(1.6)
for line, yb in zip(info_lines, info_baselines):
    fig.text(0.770, 1 - yb / 1568, line, fontsize=18, ha='left', va='baseline')

# E) ws distributions
axE = fig.add_axes([X1, 0.3189, W1, 0.2404])
axE.plot(e_all_frac, e_all_ws, color='black', lw=2.3, dashes=(3, 2))
axE.plot(e_floc_frac, e_floc_ws, color='#0000ff', lw=2.3, dashes=(3, 2))
axE.plot(e_bedagg_frac, e_bedagg_ws, color='#ff0000', lw=2.3, dashes=(3, 2))
axE.plot(e_primary_frac, e_primary_ws, color='#00ee00', lw=2.3, dashes=(3, 2))
axE.set_xlim(0, 1)
axE.set_ylim(-0.1, 6.24)
axE.set_xticks([])
axE.set_yticks([0, 1, 2, 3, 4, 5, 6])
axE.tick_params(axis='y', direction='in', left=True, right=True, labelleft=False,
                length=6, color=SPINE, width=1.3)
panel_label(axE, 0.84, 0.94, 'E)')

# F) density distributions
axF = fig.add_axes([X1, 0.0504, W1, 0.2398])
for yl in rho_limits:
    axF.axhline(yl, color='#888888', lw=1.6, dashes=(3, 2.5))
axF.plot(f_count_frac, f_count_rho, color='black', lw=2.4)
axF.plot(f_mass_frac, f_mass_rho, color='black', lw=2.4, dashes=(3.5, 2.5))
axF.set_xlim(0, 1)
axF.set_ylim(1000, 3000)
axF.set_xticks([])
axF.set_yticks(range(1000, 3001, 200))
axF.tick_params(axis='y', direction='in', left=True, right=True, labelleft=False,
                length=6, color=SPINE, width=1.3)
panel_label(axF, 0.83, 0.934, 'F)')

for ax in (axE, axF):
    for s in ax.spines.values():
        s.set_color(SPINE)
        s.set_linewidth(1.5)

fig.savefig('out.png', dpi=100)
